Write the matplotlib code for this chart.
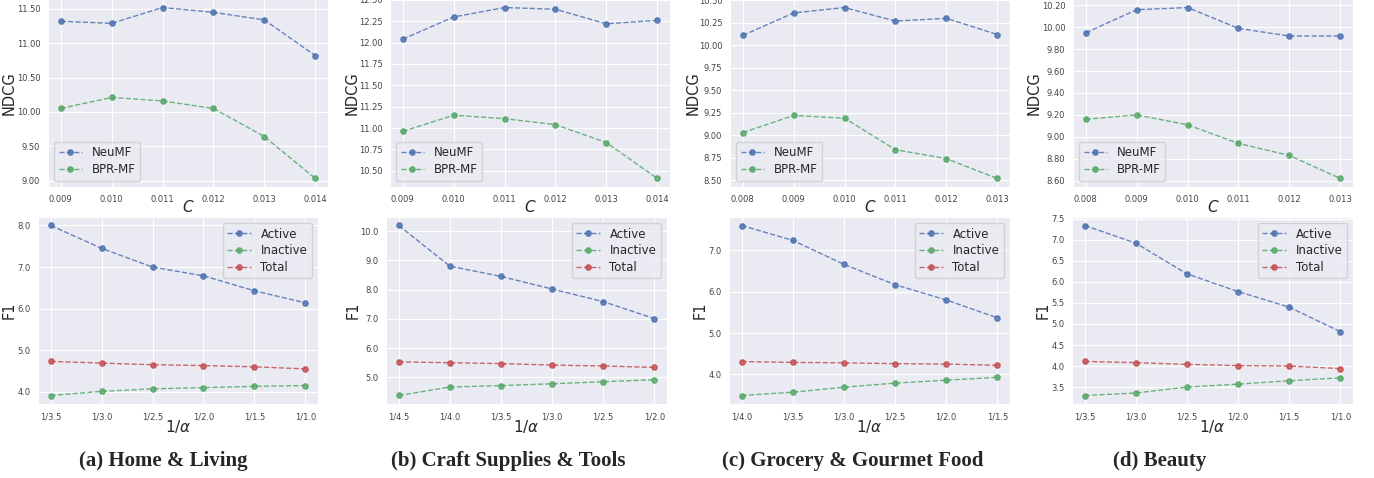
import numpy as np
import matplotlib
matplotlib.use('Agg')
import matplotlib.pyplot as plt
import seaborn as sns
from matplotlib.ticker import MultipleLocator, FormatStrFormatter

# NDCG vs C (top row)
C_AB = ['0.009', '0.010', '0.011', '0.012', '0.013', '0.014']
C_CD = ['0.008', '0.009', '0.010', '0.011', '0.012', '0.013']

ndcg_neumf_a = [11.32, 11.29, 11.52, 11.45, 11.34, 10.82]
ndcg_bpr_a = [10.05, 10.21, 10.16, 10.05, 9.64, 9.03]
ndcg_neumf_b = [12.04, 12.30, 12.41, 12.39, 12.22, 12.26]
ndcg_bpr_b = [10.96, 11.15, 11.11, 11.04, 10.83, 10.41]
ndcg_neumf_c = [10.11, 10.36, 10.42, 10.27, 10.30, 10.12]
ndcg_bpr_c = [9.03, 9.22, 9.19, 8.84, 8.74, 8.52]
ndcg_neumf_d = [9.95, 10.16, 10.18, 9.99, 9.92, 9.92]
ndcg_bpr_d = [9.16, 9.20, 9.11, 8.94, 8.83, 8.62]

# F1 vs 1/alpha (bottom row)
alpha_a = ['1/3.5', '1/3.0', '1/2.5', '1/2.0', '1/1.5', '1/1.0']
alpha_b = ['1/4.5', '1/4.0', '1/3.5', '1/3.0', '1/2.5', '1/2.0']
alpha_c = ['1/4.0', '1/3.5', '1/3.0', '1/2.5', '1/2.0', '1/1.5']
alpha_d = ['1/3.5', '1/3.0', '1/2.5', '1/2.0', '1/1.5', '1/1.0']

f1_active_a = [8.00, 7.45, 7.00, 6.79, 6.43, 6.14]
f1_inactive_a = [3.91, 4.01, 4.07, 4.10, 4.13, 4.15]
f1_total_a = [4.73, 4.69, 4.65, 4.63, 4.60, 4.55]
f1_active_b = [10.19, 8.80, 8.45, 8.02, 7.59, 7.01]
f1_inactive_b = [4.38, 4.67, 4.72, 4.78, 4.85, 4.92]
f1_total_b = [5.53, 5.50, 5.47, 5.42, 5.39, 5.34]
f1_active_c = [7.60, 7.24, 6.66, 6.17, 5.80, 5.37]
f1_inactive_c = [3.49, 3.57, 3.69, 3.79, 3.86, 3.93]
f1_total_c = [4.31, 4.29, 4.28, 4.26, 4.25, 4.22]
f1_active_d = [7.34, 6.92, 6.19, 5.77, 5.40, 4.82]
f1_inactive_d = [3.30, 3.36, 3.50, 3.57, 3.65, 3.72]
f1_total_d = [4.11, 4.08, 4.04, 4.01, 4.00, 3.94]

captions = ['(a) Home & Living', '(b) Craft Supplies & Tools',
            '(c) Grocery & Gourmet Food', '(d) Beauty']

W, H = 1374, 478

sns.set_style('darkgrid')
plt.rcParams['font.family'] = ['DejaVu Sans']

BLUE, GREEN, RED = '#4C72B0', '#55A868', '#C44E52'


def px_axes(fig, x0, x1, y0, y1):
  # pixel box (y from top) -> figure fraction
  return fig.add_axes([x0 / W, 1 - y1 / H, (x1 - x0) / W, (y1 - y0) / H])


def style_axes(ax, step, fmt):
  ax.yaxis.set_major_locator(MultipleLocator(step))
  ax.yaxis.set_major_formatter(FormatStrFormatter(fmt))
  ax.tick_params(axis='both', labelsize=6.0, colors='#444444')
  ax.tick_params(axis='y', pad=2)
  ax.tick_params(axis='x', pad=2.5)


def line(ax, x, y, color, label):
  ax.plot(x, y, linestyle='--', marker='o', markersize=3.8, linewidth=1,
          color=color, alpha=0.85, label=label)


def place_labels(ax, width, height, ylab_dx, xlab_dy):
  # label offsets in pixels from the axes' left / bottom edge
  ax.yaxis.set_label_coords(-ylab_dx / width, 0.5)
  ax.xaxis.set_label_coords(0.5, -xlab_dy / height)


fig = plt.figure(figsize=(W / 100, H / 100), dpi=100)

top_boxes = [(48, 328), (390, 670), (730, 1010), (1073, 1353)]
bot_boxes = [(38, 318), (386, 667), (729, 1010), (1072, 1353)]
top_ylab = [31, 30, 29, 31]
bot_ylab = [21, 25, 21, 21]
top_data = [(C_AB, ndcg_neumf_a, ndcg_bpr_a, 0.5, '%.2f'),
            (C_AB, ndcg_neumf_b, ndcg_bpr_b, 0.25, '%.2f'),
            (C_CD, ndcg_neumf_c, ndcg_bpr_c, 0.25, '%.2f'),
            (C_CD, ndcg_neumf_d, ndcg_bpr_d, 0.2, '%.2f')]
bot_data = [(alpha_a, f1_active_a, f1_inactive_a, f1_total_a, 1.0, '%.1f'),
            (alpha_b, f1_active_b, f1_inactive_b, f1_total_b, 1.0, '%.1f'),
            (alpha_c, f1_active_c, f1_inactive_c, f1_total_c, 1.0, '%.1f'),
            (alpha_d, f1_active_d, f1_inactive_d, f1_total_d, 0.5, '%.1f')]

for i in range(4):
  # NDCG panel
  cats, neumf, bpr, step, fmt = top_data[i]
  x0, x1 = top_boxes[i]
  ax = px_axes(fig, x0, x1, -1, 187)
  xs = np.arange(len(cats))
  line(ax, xs, neumf, BLUE, 'NeuMF')
  line(ax, xs, bpr, GREEN, 'BPR-MF')
  ax.set_xticks(xs)
  ax.set_xticklabels(cats)
  style_axes(ax, step, fmt)
  ax.set_ylabel('NDCG', fontsize=10.5)
  ax.set_xlabel('$C$', fontsize=11)
  place_labels(ax, x1 - x0, 188, top_ylab[i], 12)
  ax.legend(loc='lower left', fontsize=8.5, frameon=True, labelspacing=0.35)

  # F1 panel
  cats, act, inact, tot, step, fmt = bot_data[i]
  x0, x1 = bot_boxes[i]
  ax = px_axes(fig, x0, x1, 217, 404)
  xs = np.arange(len(cats))
  line(ax, xs, act, BLUE, 'Active')
  line(ax, xs, inact, GREEN, 'Inactive')
  line(ax, xs, tot, RED, 'Total')
  ax.set_xticks(xs)
  ax.set_xticklabels(cats)
  style_axes(ax, step, fmt)
  ax.set_ylabel('F1', fontsize=10.5)
  ax.set_xlabel('1/$\\alpha$', fontsize=11)
  place_labels(ax, x1 - x0, 187, bot_ylab[i], 14)
  ax.legend(loc='upper right', fontsize=8.5, frameon=True, labelspacing=0.3)

caption_x = [163, 508, 853, 1160]
for cx, cap in zip(caption_x, captions):
  fig.text(cx / W, 1 - 461 / H, cap, ha='center', va='center',
           fontsize=15, fontweight='bold', family='Liberation Serif')

fig.savefig('out.png', dpi=100)
